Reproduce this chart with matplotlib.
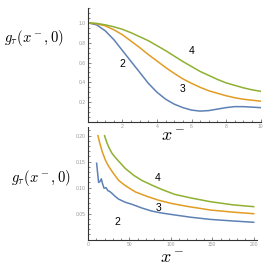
import matplotlib
matplotlib.use("Agg")
import matplotlib.pyplot as plt
from matplotlib.ticker import MultipleLocator

plt.rcParams['mathtext.fontset'] = 'cm'
plt.rcParams['font.family'] = ['Liberation Sans', 'DejaVu Sans']

# ---- top panel data (x in 0..10) ----
top_x = [0, 0.5, 1, 1.5, 2, 2.5, 3, 3.5, 4, 4.5, 5, 5.5, 6, 6.5, 7, 7.5, 8, 8.5, 9, 9.5, 10]
top_y2 = [1.0, 0.98, 0.92, 0.83, 0.72, 0.61, 0.50, 0.39, 0.30, 0.23, 0.18, 0.145, 0.12, 0.11, 0.115, 0.13, 0.145, 0.155, 0.155, 0.15, 0.145]
top_y3 = [1.0, 0.99, 0.97, 0.93, 0.88, 0.815, 0.75, 0.68, 0.615, 0.55, 0.49, 0.435, 0.39, 0.35, 0.315, 0.29, 0.265, 0.245, 0.23, 0.22, 0.21]
top_y4 = [1.0, 0.995, 0.98, 0.96, 0.935, 0.90, 0.86, 0.82, 0.77, 0.72, 0.665, 0.61, 0.56, 0.51, 0.47, 0.43, 0.395, 0.37, 0.345, 0.325, 0.31]

# ---- bottom panel data (x in 0..200) ----
bot_x2 = [10.4, 12.8, 14.5, 16.1, 17.5, 19.3, 21.7, 24.2, 26, 29, 33, 37, 45, 53, 65, 77, 90, 105, 125, 148, 175, 200]
bot_y2 = [0.147, 0.110, 0.112, 0.117, 0.108, 0.099, 0.100, 0.094, 0.093, 0.089, 0.083, 0.078, 0.072, 0.068, 0.061, 0.055, 0.051, 0.0475, 0.043, 0.039, 0.036, 0.0335]
bot_x3 = [12, 14, 17, 21, 25, 30, 37, 45, 57, 70, 85, 100, 120, 148, 175, 200]
bot_y3 = [0.200, 0.187, 0.170, 0.153, 0.141, 0.129, 0.114, 0.104, 0.092, 0.084, 0.076, 0.070, 0.064, 0.057, 0.053, 0.050]
bot_x4 = [20, 22, 25, 29, 33, 37, 45, 55, 65, 77, 90, 105, 125, 148, 175, 200]
bot_y4 = [0.200, 0.190, 0.178, 0.166, 0.158, 0.151, 0.137, 0.124, 0.114, 0.105, 0.096, 0.087, 0.080, 0.073, 0.067, 0.0635]

curve_labels = ["2", "3", "4"]
c_blue, c_orange, c_green = "#5E81B5", "#E19C24", "#8FB032"

W = 267.0
fig = plt.figure(figsize=(2.67, 2.67), dpi=100)

def px_axes(l, t, r, b):
    return fig.add_axes([l / W, 1 - b / W, (r - l) / W, (b - t) / W])

def style(ax):
    for s in ['top', 'right']:
        ax.spines[s].set_visible(False)
    for s in ['left', 'bottom']:
        ax.spines[s].set_color('#333333')
        ax.spines[s].set_linewidth(0.8)
    ax.tick_params(which='both', direction='in', colors='#555555', labelcolor='#999999',
                   labelsize=3.6, width=0.5, pad=1.5)
    ax.tick_params(which='major', length=2.5)
    ax.tick_params(which='minor', length=1.3)
    ax.patch.set_alpha(0)

lw = 1.1

ax1 = px_axes(88, 8, 260.5, 122)
style(ax1)
ax1.plot(top_x, top_y2, color=c_blue, lw=lw)
ax1.plot(top_x, top_y3, color=c_orange, lw=lw)
ax1.plot(top_x, top_y4, color=c_green, lw=lw)
ax1.set_xlim(0, 10)
ax1.set_ylim(0, 1.15)
ax1.xaxis.set_minor_locator(MultipleLocator(0.5))
ax1.yaxis.set_minor_locator(MultipleLocator(0.05))
ax1.set_xticks([2, 4, 6, 8, 10])
ax1.set_xticklabels(["2", "4", "6", "8", "10"])
ax1.set_yticks([0.2, 0.4, 0.6, 0.8, 1.0])
ax1.set_yticklabels(["0.2", "0.4", "0.6", "0.8", "1.0"])

ax2 = px_axes(88, 127, 257, 239.7)
style(ax2)
ax2.plot(bot_x2, bot_y2, color=c_blue, lw=lw)
ax2.plot(bot_x3, bot_y3, color=c_orange, lw=lw)
ax2.plot(bot_x4, bot_y4, color=c_green, lw=lw)
ax2.set_xlim(0, 204)
ax2.set_ylim(0, 0.2167)
ax2.xaxis.set_minor_locator(MultipleLocator(10))
ax2.yaxis.set_minor_locator(MultipleLocator(0.01))
ax2.set_xticks([0, 50, 100, 150, 200])
ax2.set_xticklabels(["0", "50", "100", "150", "200"])
ax2.set_yticks([0.05, 0.10, 0.15, 0.20])
ax2.set_yticklabels(["0.05", "0.10", "0.15", "0.20"])

def ftext(x, y, s, size, **kw):
    fig.text(x / W, 1 - y / W, s, fontsize=size, ha='center', va='center', **kw)

ylab = r"$g_\tau(x^-,0)$"
xlab = r"$x^-$"
ftext(34, 38, ylab, 10.5)
ftext(41, 178, ylab, 10.5)
ftext(173, 136, xlab, 13)
ftext(172, 258, xlab, 13)

for (x, y), s in zip([(122, 64), (183, 89), (192, 51)], curve_labels):
    ftext(x, y, s, 7.5)
for (x, y), s in zip([(117, 222), (159, 208), (158, 178)], curve_labels):
    ftext(x, y, s, 7.5)

fig.savefig("out.png", dpi=100)
